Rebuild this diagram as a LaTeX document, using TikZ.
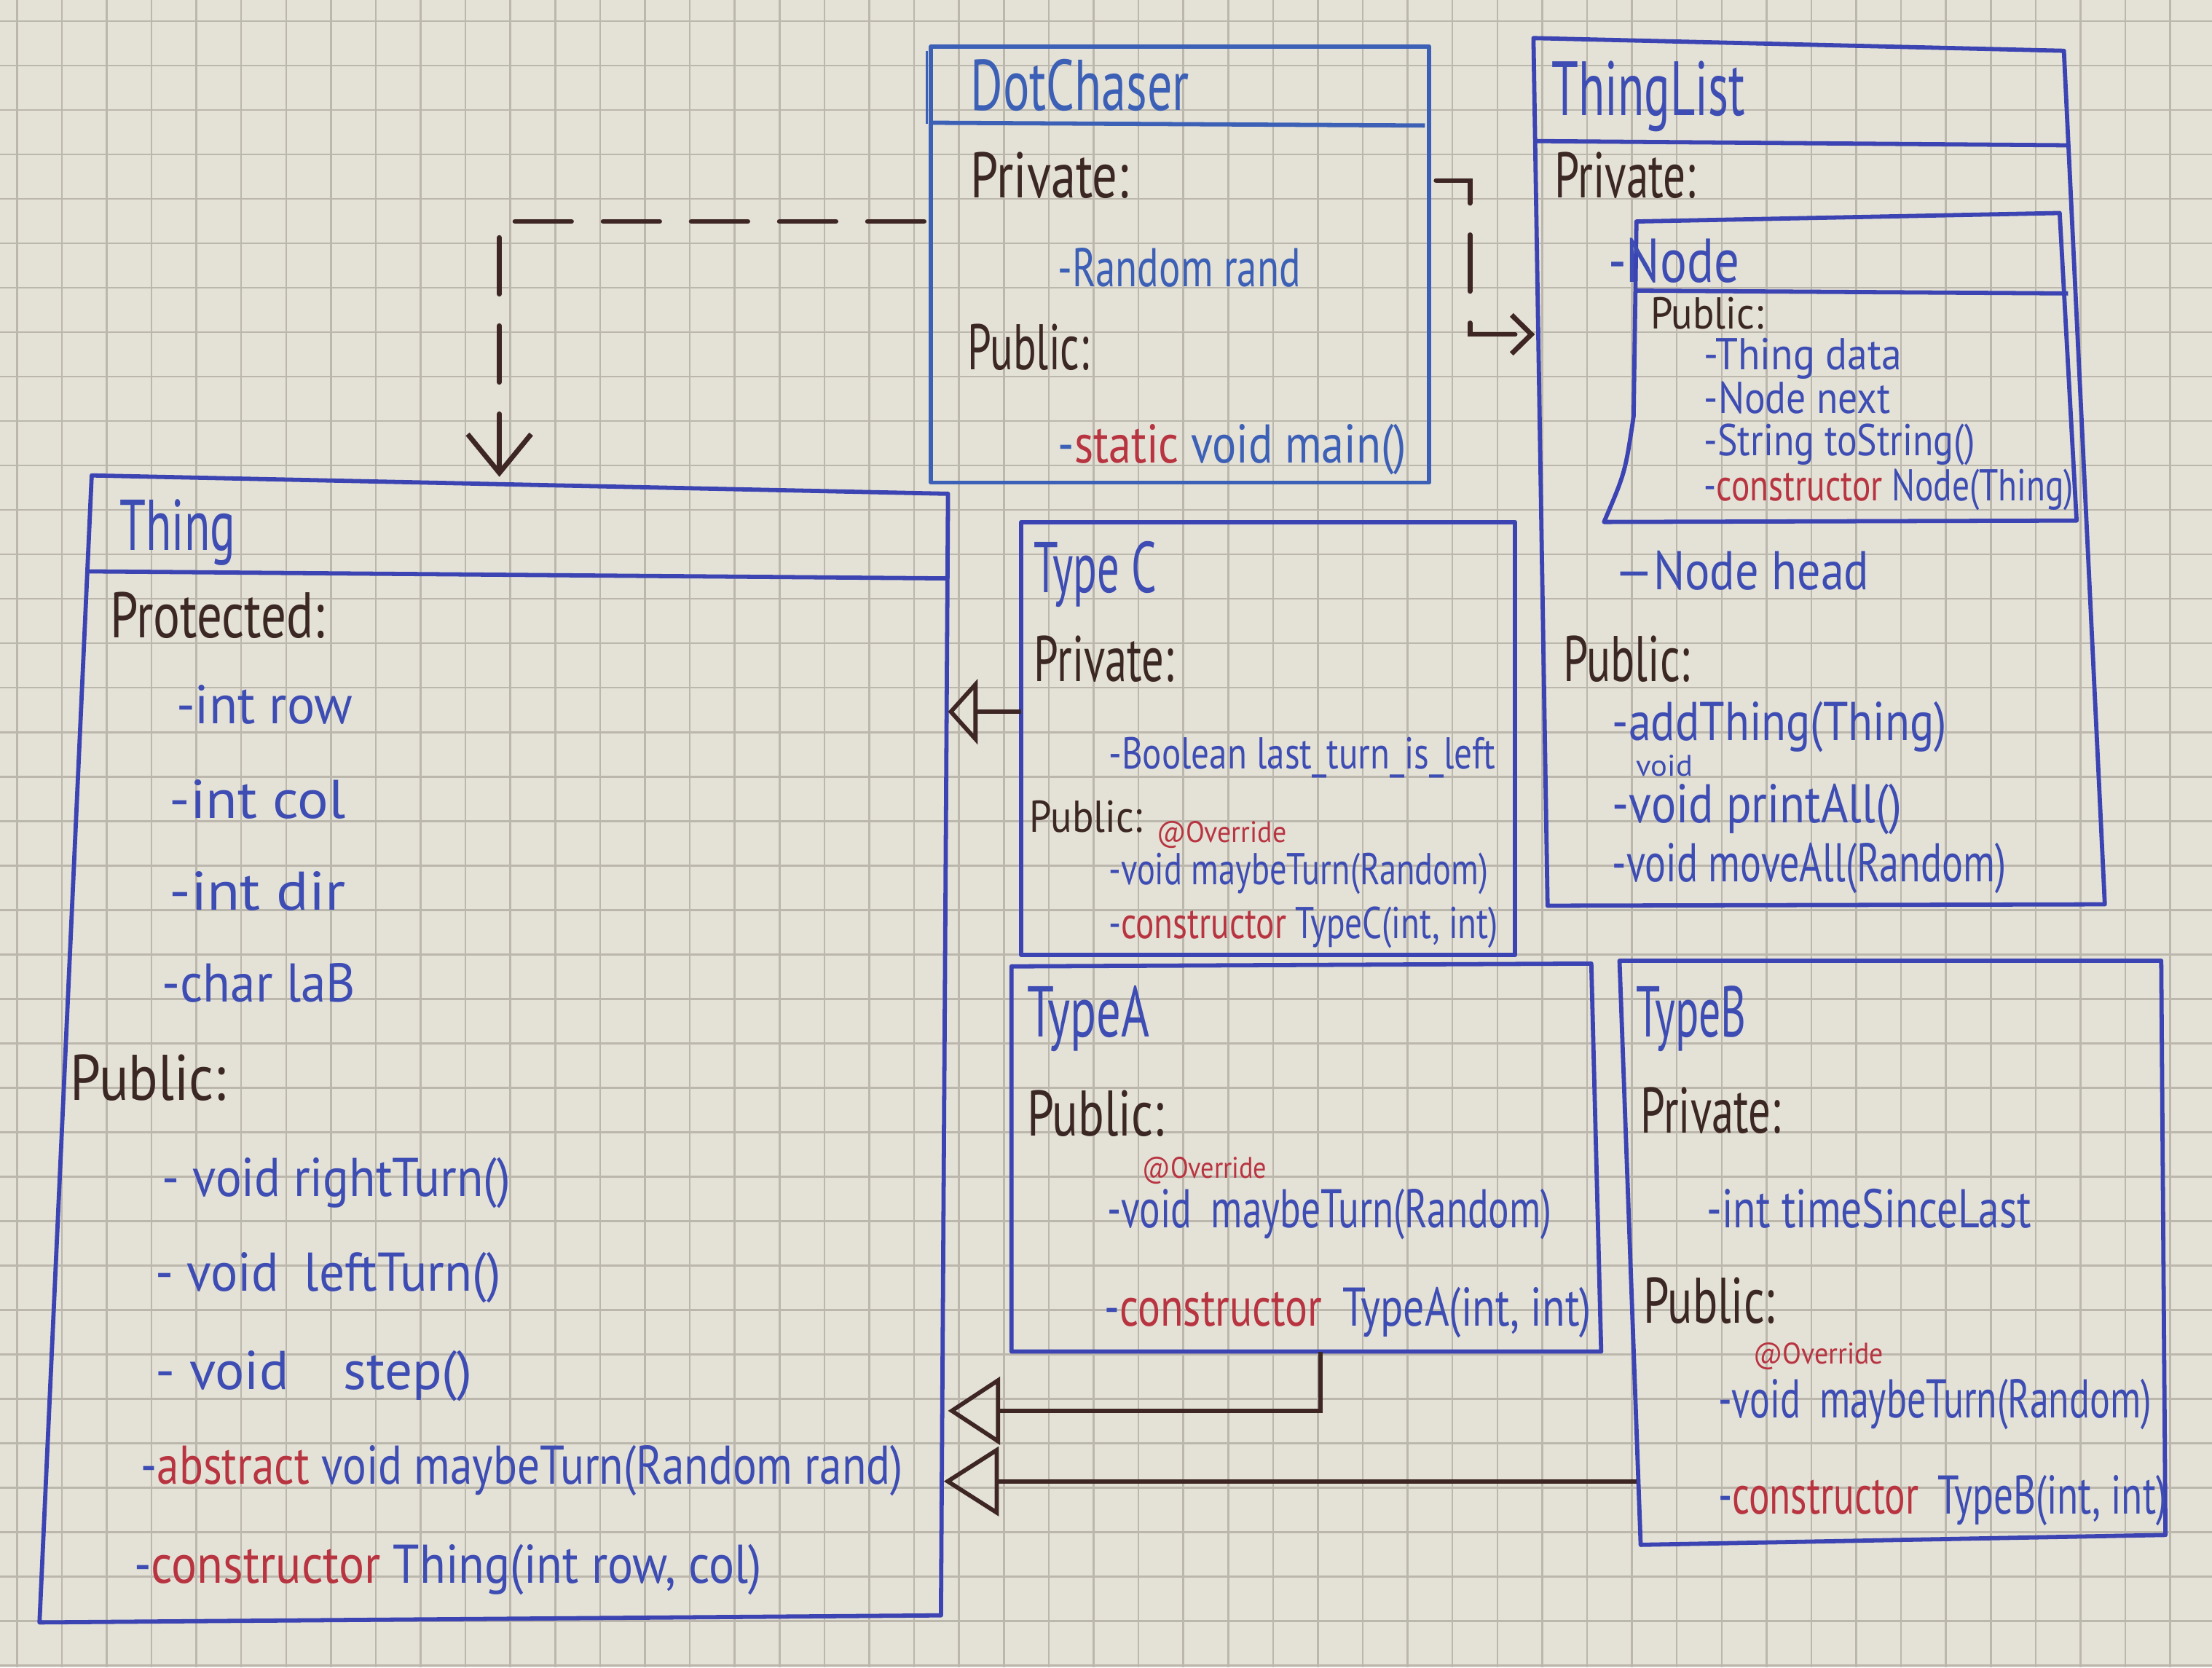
\documentclass[tikz,border=0pt]{standalone}
\usepackage{fontspec}
\setmainfont{PT Sans}
\usepackage{graphicx}
\usetikzlibrary{arrows.meta,calc,fit}

\definecolor{paper}{HTML}{E4E1D7}
\definecolor{gridc}{HTML}{BCB7AD}
\definecolor{pen}{HTML}{3B44B2}
\definecolor{penlight}{HTML}{3C60B6}
\definecolor{inkblue}{HTML}{3D4DB3}
\definecolor{inkbrown}{HTML}{3B2723}
\definecolor{inkred}{HTML}{B83440}
\definecolor{arrowink}{HTML}{3D2624}

% one drawing unit
\newlength\pxu \setlength\pxu{0.02cm}
% set a line of text to a fixed width, keeping its height
\newcommand\fw[2]{\resizebox{#1\pxu}{\height}{#2}}
\newcommand\rd[1]{\textcolor{inkred}{#1}}

\tikzset{
  gridline/.style={draw=gridc, line width=0.75pt},
  box/.style={draw=pen, line width=1.7pt, line join=round},
  classbox/.style={inner sep=0pt, outer sep=0pt, draw=none},
  lbl/.style={anchor=base west, inner sep=0pt, outer sep=0pt},
  ttl/.style={lbl, text=inkblue, font=\fontsize{29}{30}\selectfont},
  sec/.style={lbl, text=inkbrown, font=\fontsize{26}{28}\selectfont},
  secS/.style={lbl, text=inkbrown, font=\fontsize{18}{20}\selectfont},
  mem/.style={lbl, text=inkblue, font=\fontsize{22}{24}\selectfont},
  memS/.style={lbl, text=inkblue, font=\fontsize{18}{20}\selectfont},
  ovr/.style={lbl, text=inkred, font=\fontsize{12}{13}\selectfont},
  dep/.style={draw=arrowink, line width=2pt, line cap=round,
    dash pattern=on 0.8cm off 0.45cm},
  gen/.style={draw=arrowink, line width=1.7pt},
}

\begin{document}
\begin{tikzpicture}[x=0.02cm, y=-0.02cm]
% paper and grid
\fill[paper] (0,0) rectangle (1568,1182);
\useasboundingbox (0,0) rectangle (1568,1182);
\foreach \k in {0,...,49} \draw[gridline] ({12+31.8*\k},0) -- ++(0,1182);
\foreach \k in {0,...,37} \draw[gridline] (0,{15+31.5*\k}) -- ++(1568,0);

% class frames
\node[classbox, fit={(660,33) (1013,342)}] (dc) {};
\node[classbox, fit={(1087,27) (1492,642)}] (tl) {};
\node[classbox, fit={(28,337) (672,1150)}] (thing) {};
\node[classbox, fit={(724,370) (1074,677)}] (tc) {};
\node[classbox, fit={(717,683) (1135,958)}] (ta) {};
\node[classbox, fit={(1148,681) (1535,1095)}] (tb) {};

% DotChaser
\draw[box, draw=penlight] (dc.north west) rectangle (dc.south east);
\draw[box, draw=penlight] ($(dc.north west)+(0,54)$) -- ($(dc.north east)+(-3,56)$);
\draw[box, draw=penlight, line width=1pt] ($(dc.north west)+(-3,3)$) -- ($(dc.north west)+(-3,55)$);

% ThingList
\draw[box] (tl.north west) -- ($(tl.north east)+(-29,9)$) -- ($(tl.south east)+(0,-1)$)
  -- ($(tl.south west)+(10,0)$) -- cycle;
\draw[box] ($(tl.north west)+(1,73)$) -- ($(tl.north east)+(-26,76)$);
% nested Node class
\draw[box] (1160,157) -- (1460,151) -- (1472,369) -- (1137,370)
  .. controls (1152,335) .. (1158,295) -- cycle;
\draw[box] (1160,206) -- (1466,208);

% Thing
\draw[box] ($(thing.north west)+(37,0)$) -- ($(thing.north east)+(0,13)$)
  -- ($(thing.south east)+(-5,-5)$) -- (thing.south west) -- cycle;
\draw[box] ($(thing.north west)+(34,68)$) -- ($(thing.north east)+(0,73)$);

% TypeC, TypeA, TypeB
\draw[box] (tc.north west) rectangle (tc.south east);
\draw[box] ($(ta.north west)+(0,2)$) -- ($(ta.north east)+(-7,0)$) -- (ta.south east)
  -- (ta.south west) -- cycle;
\draw[box] (tb.north west) -- ($(tb.north east)+(-3,0)$) -- ($(tb.south east)+(0,-7)$)
  -- ($(tb.south west)+(15,0)$) -- cycle;

% ---- DotChaser text
\node[ttl, text=penlight] (dcT) at (688,78) {\fw{155}{DotChaser}};
\node[sec] (dcPr) at (688,140) {\fw{112}{Private:}};
\node[mem, text=penlight] (dcRand) at (750,203) {\fw{172}{-Random rand}};
\node[sec] (dcPu) at (686,262) {\fw{86}{Public:}};
\node[mem, text=penlight] (dcMain) at (750,328) {\fw{247}{-\rd{static} void main()}};

% ---- ThingList text
\node[ttl, font=\fontsize{31}{32}\selectfont] (tlT) at (1100,82) {\fw{137}{ThingList}};
\node[sec] (tlPr) at (1102,140) {\fw{100}{Private:}};
\node[ttl, font=\fontsize{25}{26}\selectfont] (ndT) at (1140,200) {\fw{93}{-Node}};
\node[secS] (ndPu) at (1170,233) {\fw{80}{Public:}};
\node[memS] (ndData) at (1208,262) {\fw{140}{-Thing data}};
\node[memS] (ndNext) at (1208,293) {\fw{132}{-Node next}};
\node[memS] (ndStr) at (1208,323) {\fw{192}{-String toString()}};
\node[memS] (ndCtor) at (1208,355) {\fw{262}{-\rd{constructor} Node(Thing)}};
\node[mem] (tlHead) at (1145,418) {\fw{180}{—Node head}};
\node[sec] (tlPu) at (1108,483) {\fw{90}{Public:}};
\node[mem] (tlAdd) at (1143,525) {\fw{237}{-addThing(Thing)}};
\node[ovr, text=inkblue] (tlVoid) at (1160,550) {\fw{40}{void}};
\node[mem] (tlPrint) at (1143,583) {\fw{205}{-void printAll()}};
\node[mem] (tlMove) at (1143,625) {\fw{279}{-void moveAll(Random)}};

% ---- Thing text
\node[ttl] (thT) at (85,390) {\fw{82}{Thing}};
\node[sec] (thPr) at (78,452) {\fw{152}{Protected:}};
\node[mem] (thRow) at (125,513) {\fw{125}{-int row}};
\node[mem] (thCol) at (120,580) {\fw{125}{-int col}};
\node[mem] (thDir) at (120,645) {\fw{125}{-int dir}};
\node[mem] (thLab) at (115,710) {\fw{137}{-char laB}};
\node[sec] (thPu) at (50,780) {\fw{110}{Public:}};
\node[mem] (thRight) at (115,848) {\fw{247}{- void rightTurn()}};
\node[mem] (thLeft) at (110,915) {\fw{245}{- void\enspace leftTurn()}};
\node[mem] (thStep) at (110,985) {\fw{225}{- void\quad step()}};
\node[mem] (thMaybe) at (100,1052) {\fw{540}{-\rd{abstract} void maybeTurn(Random rand)}};
\node[mem] (thCtor) at (95,1122) {\fw{445}{-\rd{constructor} Thing(int row, col)}};

% ---- TypeC text
\node[ttl] (tcT) at (733,420) {\fw{87}{Type C}};
\node[sec] (tcPr) at (733,483) {\fw{99}{Private:}};
\node[memS] (tcBool) at (786,545) {\fw{274}{-Boolean last\_turn\_is\_left}};
\node[secS] (tcPu) at (730,590) {\fw{80}{Public:}};
\node[ovr] (tcOv) at (820,597) {\fw{92}{@Override}};
\node[memS] (tcMaybe) at (786,627) {\fw{269}{-void maybeTurn(Random)}};
\node[memS] (tcCtor) at (786,665) {\fw{276}{-\rd{constructor} TypeC(int, int)}};

% ---- TypeA text
\node[ttl] (taT) at (728,735) {\fw{87}{TypeA}};
\node[sec] (taPu) at (728,805) {\fw{97}{Public:}};
\node[ovr] (taOv) at (810,835) {\fw{88}{@Override}};
\node[mem] (taMaybe) at (785,870) {\fw{315}{-void\enspace maybeTurn(Random)}};
\node[mem] (taCtor) at (783,940) {\fw{345}{-\rd{constructor}\enspace TypeA(int, int)}};

% ---- TypeB text
\node[ttl] (tbT) at (1160,735) {\fw{78}{TypeB}};
\node[sec] (tbPr) at (1163,803) {\fw{99}{Private:}};
\node[mem] (tbTime) at (1210,870) {\fw{230}{-int timeSinceLast}};
\node[sec] (tbPu) at (1165,938) {\fw{93}{Public:}};
\node[ovr] (tbOv) at (1243,967) {\fw{92}{@Override}};
\node[mem] (tbMaybe) at (1218,1005) {\fw{307}{-void\enspace maybeTurn(Random)}};
\node[mem] (tbCtor) at (1218,1073) {\fw{318}{-\rd{constructor}\enspace TypeB(int, int)}};

% ---- dependencies (dashed, open head)
\coordinate (bendA) at (354,157);
\draw[dep, -{Straight Barb[length=0.55cm, width=0.9cm, line width=2pt]}]
  ($(dc.west |- bendA)+(-5,0)$) -- (bendA) -- ($(bendA |- thing.north)+(0,1)$);
\coordinate (bendB) at (1042,128);
\coordinate (bendC) at (1042,237);
\draw[dep, -{Straight Barb[length=0.28cm, width=0.55cm, line width=2pt]}]
  ($(dc.east |- bendB)+(5,0)$) -- (bendB) -- (bendC) -- ($(bendC -| tl.west)+(1,0)$);

% ---- generalisations (solid, hollow triangle)
\draw[gen, -{Triangle[open, length=0.42cm, width=0.92cm, line width=1.7pt]}]
  ($(tc.west)+(0,-19)$) coordinate (gcS) -- (gcS -| thing.east);
\draw[gen, -{Triangle[open, length=0.74cm, width=0.96cm, line width=1.7pt]}]
  ($(ta.south)+(10,0)$) -- ++(0,42) coordinate (gaB) -- (gaB -| thing.east);
\draw[gen, -{Triangle[open, length=0.78cm, width=0.98cm, line width=1.7pt]}]
  ($(tb.west)+(12,162)$) coordinate (gbS) -- ($(gbS -| thing.east)+(-3,0)$);
\end{tikzpicture}
\end{document}
